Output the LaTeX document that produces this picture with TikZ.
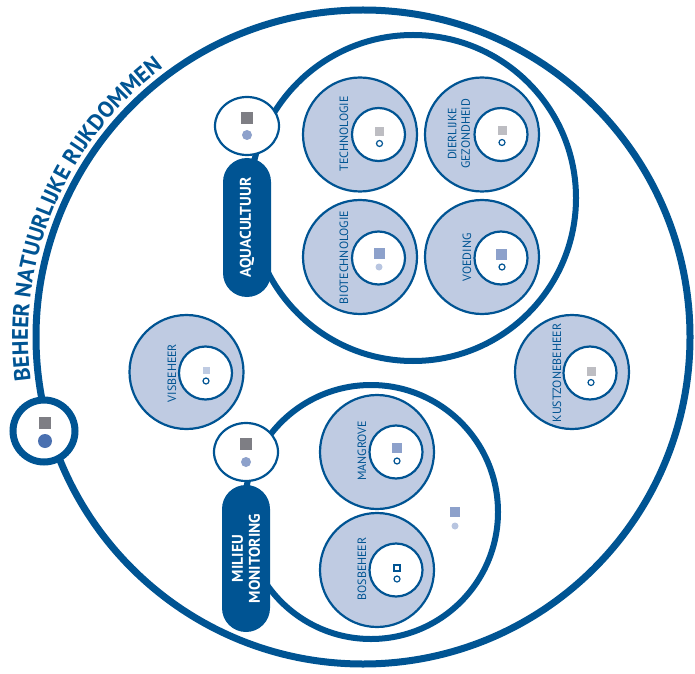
\documentclass[tikz,border=0pt]{standalone}
\usepackage{fontspec}
\setmainfont{PT Sans}
\usetikzlibrary{decorations.text,shapes.geometric}
\definecolor{mblue}{HTML}{005493}
\definecolor{lfill}{HTML}{BFCBE2}
\definecolor{dgray}{HTML}{7E7E84}
\definecolor{lgray}{HTML}{BDBDC2}
\definecolor{msq}{HTML}{8DA1CB}
\definecolor{ldot}{HTML}{B8C5E0}
\definecolor{ddot}{HTML}{4A70B0}
\newcommand\arcfmt{\color{mblue}\bfseries\fontsize{22.5}{22.5}\selectfont}
\begin{document}
\begin{tikzpicture}[x=1pt,y=1pt,
  bigring/.style={circle, draw=mblue, line width=6pt, inner sep=0pt},
  outerc/.style={circle, draw=mblue, fill=lfill, line width=2.2pt, minimum size=114pt, inner sep=0pt},
  innerc/.style={circle, draw=mblue, fill=white, line width=2.2pt, minimum size=53pt, inner sep=0pt},
  lbl/.style={rotate=90, text=mblue, font=\fontsize{12}{13.5}\selectfont, align=center, inner sep=0pt},
  sq/.style={rectangle, inner sep=0pt, minimum size=#1},
  mk/.style={circle, draw=mblue, line width=1.2pt, fill=white, minimum size=6pt, inner sep=0pt},
  dotc/.style={circle, inner sep=0pt, minimum size=#1},
  hub/.style={ellipse, draw=mblue, fill=white, line width=2.2pt, minimum width=64pt, minimum height=58pt, inner sep=0pt},
  pill/.style={rotate=90, fill=mblue, rounded corners=24pt, minimum height=48pt, inner sep=0pt, text=white, font=\bfseries\fontsize{15.5}{17}\selectfont, align=center}
]
\useasboundingbox (0,0) rectangle (695,673);

% big rings
\node[bigring, line width=7pt, minimum size=654pt] (beheer) at (363,336) {};
\node[bigring, minimum size=326pt] (aqua) at (413,475) {};
\node[bigring, minimum size=254pt] (milieu) at (371,161) {};

% arc text
\path[decorate, decoration={text along path, text align=center,
  text={|\arcfmt|BEHEER NATUURLIJKE RIJKDOMMEN}}]
  (beheer.center) ++(205:335) arc (205:109:335);

% hubs
\node[hub] (aquahub) at (247,547) {};
\node[sq=12pt, fill=dgray] (aquahubsq) at (247,555) {};
\node[dotc=10pt, fill=msq] (aquahubdot) at (247,538) {};
\node[hub] (milhub) at (246,221) {};
\node[sq=12pt, fill=dgray] (milhubsq) at (246,229) {};
\node[dotc=10pt, fill=msq] (milhubdot) at (246,211) {};

% pills
\node[pill, minimum width=139pt] (aquapill) at (247,445.5) {AQUACULTUUR};
\node[pill, minimum width=147pt] (milpill) at (246,114.5) {MILIEU\\MONITORING};

% aquacultuur topics
\node[outerc] (tech) at (360,538.5) {};
\node[innerc] (techi) at (378.5,538.5) {};
\node[sq=9pt, fill=lgray] (techsq) at (379,541.5) {};
\node[mk] (techmk) at (379.5,529.5) {};
\node[lbl] (techl) at (344,539) {TECHNOLOGIE};

\node[outerc] (dier) at (482,538.5) {};
\node[innerc] (dieri) at (501,538.5) {};
\node[sq=9pt, fill=lgray] (diersq) at (502,542) {};
\node[mk] (diermk) at (502,530.5) {};
\node[lbl] (dierl) at (459,539) {DIERLIJKE\\GEZONDHEID};

\node[outerc] (bio) at (360,416) {};
\node[innerc] (bioi) at (378.5,415) {};
\node[sq=11pt, fill=msq] (biosq) at (379,419.5) {};
\node[dotc=7pt, fill=ldot] (biodot) at (379,406) {};
\node[lbl] (biol) at (344,415.5) {BIOTECHNOLOGIE};

\node[outerc] (voed) at (482,416) {};
\node[innerc] (voedi) at (501,415) {};
\node[sq=11pt, fill=msq] (voedsq) at (501,419) {};
\node[mk] (voedmk) at (502,406) {};
\node[lbl] (voedl) at (467,415.5) {VOEDING};

% visbeheer
\node[outerc] (vis) at (186.5,301) {};
\node[innerc] (visi) at (205.5,300) {};
\node[sq=7pt, fill=lfill] (vissq) at (206,303) {};
\node[mk] (vismk) at (206,292) {};
\node[lbl] (visl) at (172,300) {VISBEHEER};

% kustzonebeheer
\node[outerc] (kust) at (572,301) {};
\node[innerc] (kusti) at (590,300) {};
\node[sq=9pt, fill=lgray] (kustsq) at (591,302) {};
\node[mk] (kustmk) at (591,290.5) {};
\node[lbl] (kustl) at (557,300) {KUSTZONEBEHEER};

% milieu topics
\node[outerc] (mang) at (377,221) {};
\node[innerc] (mangi) at (396,221) {};
\node[sq=10pt, fill=msq] (mangsq) at (397,225) {};
\node[mk] (mangmk) at (397,212) {};
\node[lbl] (mangl) at (362,222) {MANGROVE};

\node[outerc] (bos) at (377,103) {};
\node[innerc] (bosi) at (396,103) {};
\node[sq=6pt, draw=mblue, line width=1.2pt, fill=white] (bossq) at (397,105) {};
\node[mk] (bosmk) at (397,94) {};
\node[lbl] (bosl) at (362,104) {BOSBEHEER};

\node[sq=10pt, fill=msq] (milsq) at (455,161) {};
\node[dotc=7pt, fill=ldot] (mildot) at (455,147) {};

% source circle
\node[circle, draw=mblue, line width=7pt, fill=white, minimum size=62pt, inner sep=0pt] (src) at (44,242) {};
\node[sq=12pt, fill=dgray] (srcsq) at (45,250) {};
\node[dotc=14pt, fill=ddot] (srcdot) at (45,232) {};
\end{tikzpicture}
\end{document}
